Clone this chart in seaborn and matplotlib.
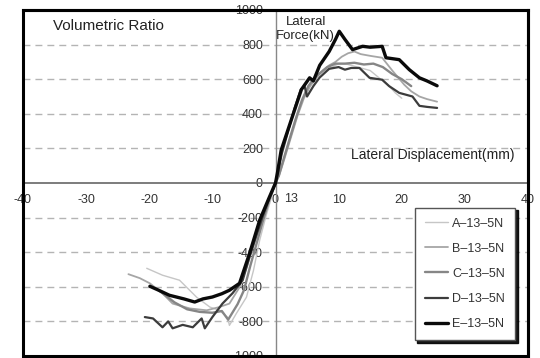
import matplotlib
matplotlib.use("Agg")
import matplotlib.pyplot as plt
import seaborn as sns
from matplotlib.patches import Rectangle

# ---- data ----
specimens = ["A–13–5N", "B–13–5N", "C–13–5N", "D–13–5N", "E–13–5N"]

A_x = [-20.4, -17.9, -15.2, -12.5, -10.4, -8.9, -7.6, -7.3, -6.2, -4.6, -3.5, -2.5, -1.5, -0.7, 0,
       0.5, 1.2, 2, 3, 4, 5, 6, 7, 8, 9, 10, 11, 12, 13, 14, 15, 16, 17, 18, 19, 20]
A_y = [-493, -533, -562, -660, -717, -736, -776, -823, -754, -660, -507, -330, -190, -90, 0,
       40, 120, 230, 350, 460, 540, 590, 630, 655, 670, 690, 690, 680, 670, 660, 650, 620, 590, 560, 520, 490]

B_x = [-23.3, -21.5, -19.9, -17.9, -16.3, -13.6, -10.9, -8.9, -7.3, -5.7, -4.5, -3.3, -2.2, -1.2, 0,
       0.6, 1.5, 2.5, 3.5, 4.5, 5.5, 6.5, 7.5, 8.5, 9.5, 10.5, 11.5, 12.5, 13.5, 15, 16.9, 18.5, 20.4,
       21.5, 22.8, 24, 25.6]
B_y = [-527, -550, -580, -638, -697, -725, -736, -717, -697, -603, -480, -340, -210, -100, 0,
       45, 150, 270, 390, 490, 560, 610, 650, 680, 700, 730, 750, 760, 745, 735, 724, 650, 568,
       530, 500, 485, 470]

C_x = [-18.5, -16, -14, -12, -10, -8.5, -7.5, -7, -6, -5, -4, -3, -2, -1, 0,
       0.5, 1.3, 2.2, 3.2, 4.2, 5.2, 6.2, 7.2, 8.2, 9.5, 11, 12.5, 14, 15.5, 17, 18.5, 20, 21.5]
C_y = [-620, -690, -730, -745, -750, -740, -790, -760, -700, -620, -480, -350, -220, -100, 0,
       40, 140, 250, 370, 480, 560, 610, 640, 670, 690, 690, 695, 685, 690, 670, 630, 600, 560]

D_x = [-20.7, -19.4, -17.9, -17, -16.3, -14.7, -13.1, -11.7, -11.2, -10, -8.4, -6.8, -5.2, -4.1, -3, -2, -1, 0,
       0.3, 1, 2, 3, 4, 4.6, 5, 6, 7, 8.5, 10, 11, 12, 13.3, 14.9, 16.9, 18, 19.6, 21.7, 22.8, 24, 25.6]
D_y = [-775, -783, -834, -800, -840, -820, -834, -783, -840, -775, -697, -637, -562, -425, -300, -190, -90, 0,
       50, 170, 300, 430, 540, 560, 500, 560, 610, 660, 670, 655, 665, 665, 608, 597, 560, 521, 500, 446, 440, 434]

E_x = [-19.9, -18.5, -16.8, -14.5, -12.8, -11.5, -10, -8.5, -7.3, -5.7, -4.1, -2.5, -0.95, 0,
       0.3, 0.9, 2.5, 4.1, 5.4, 6, 7, 8.5, 9.5, 10.1, 11, 12.2, 13.8, 15, 16.9, 17.5, 19.6, 21.2, 22.8, 24, 25.6]
E_y = [-597, -620, -649, -670, -688, -670, -659, -640, -620, -580, -406, -214, -80, 0,
       58, 190, 365, 540, 608, 590, 680, 760, 830, 877, 830, 771, 790, 785, 790, 724, 713, 655, 608, 590, 562]

series_x = [A_x, B_x, C_x, D_x, E_x]
series_y = [A_y, B_y, C_y, D_y, E_y]

x_ticks = [-40, -30, -20, -10, 0, 10, 20, 30, 40]
y_ticks = [-1000, -800, -600, -400, -200, 0, 200, 400, 600, 800, 1000]

# ---- style ----
sns.set_style("white")
plt.rcParams["font.family"] = ["Liberation Sans", "DejaVu Sans"]
plt.rcParams["axes.unicode_minus"] = False

colors = ["#c6c6c6", "#a6a6a6", "#868686", "#3c3c3c", "#0a0a0a"]
widths = [1.0, 1.3, 1.7, 1.6, 2.4]

fig = plt.figure(figsize=(5.4, 3.58), dpi=100)
ax = fig.add_axes([23 / 540, 1 - 356 / 358, 505 / 540, 346 / 358])

ax.set_xlim(-40, 40)
ax.set_ylim(-1000, 1000)

# dashed horizontal grid
for yv in y_ticks:
    if yv in (0, 1000, -1000):
        continue
    ax.axhline(yv, color="#b4b4b4", lw=1.0, ls=(0, (5, 3.6)), zorder=0)

for name, xs, ys, c, w in zip(specimens, series_x, series_y, colors, widths):
    sns.lineplot(x=xs, y=ys, ax=ax, color=c, lw=w, sort=False, estimator=None,
                 label=name, zorder=3)

# axes through origin
ax.spines["left"].set_position(("data", 0))
ax.spines["bottom"].set_position(("data", 0))
ax.spines["left"].set_color("#888888")
ax.spines["left"].set_linewidth(1.0)
ax.spines["bottom"].set_color("#666666")
ax.spines["bottom"].set_linewidth(1.2)
for s in ("top", "right"):
    ax.spines[s].set_color("black")
    ax.spines[s].set_linewidth(2.2)
ax.add_patch(Rectangle((0, 0), 1, 1, transform=ax.transAxes, fill=False,
                       ec="black", lw=2.2, clip_on=False, zorder=5))

ax.set_xticks(x_ticks)
ax.set_yticks(y_ticks)
ax.set_xticklabels([str(v) for v in x_ticks])
ax.set_yticklabels([str(v) for v in y_ticks])
ax.tick_params(axis="x", direction="in", length=4, width=0.8, color="#666666",
               pad=8, labelsize=9, labelcolor="#333333")
ax.tick_params(axis="y", direction="out", length=3, width=0.8, color="#888888",
               pad=6, labelsize=9, labelcolor="#333333")
ax.set_xlabel("")
ax.set_ylabel("")

# annotations
ax.text(-35.3, 910, "Volumetric Ratio", fontsize=11, color="#222222",
        ha="left", va="center")
ax.text(4.8, 965, "Lateral\nForce(kN)", fontsize=9.5, color="#222222",
        ha="center", va="top", linespacing=1.25, zorder=2)
ax.text(37.8, 160, "Lateral Displacement(mm)", fontsize=10, color="#222222",
        ha="right", va="center")
ax.text(1.3, -90, "13", fontsize=9, color="#333333", ha="left", va="center")

leg = ax.legend(loc="lower right", bbox_to_anchor=(0.974, 0.046), fontsize=9,
                frameon=True, fancybox=False, edgecolor="#555555", framealpha=1,
                shadow={"color": "black", "alpha": 0.9}, handlelength=1.9,
                labelspacing=1.05, borderpad=0.8, handletextpad=0.3,
                borderaxespad=0)
leg.get_frame().set_linewidth(1.0)
for t in leg.get_texts():
    t.set_color("#333333")

fig.savefig("out.png", dpi=100)
